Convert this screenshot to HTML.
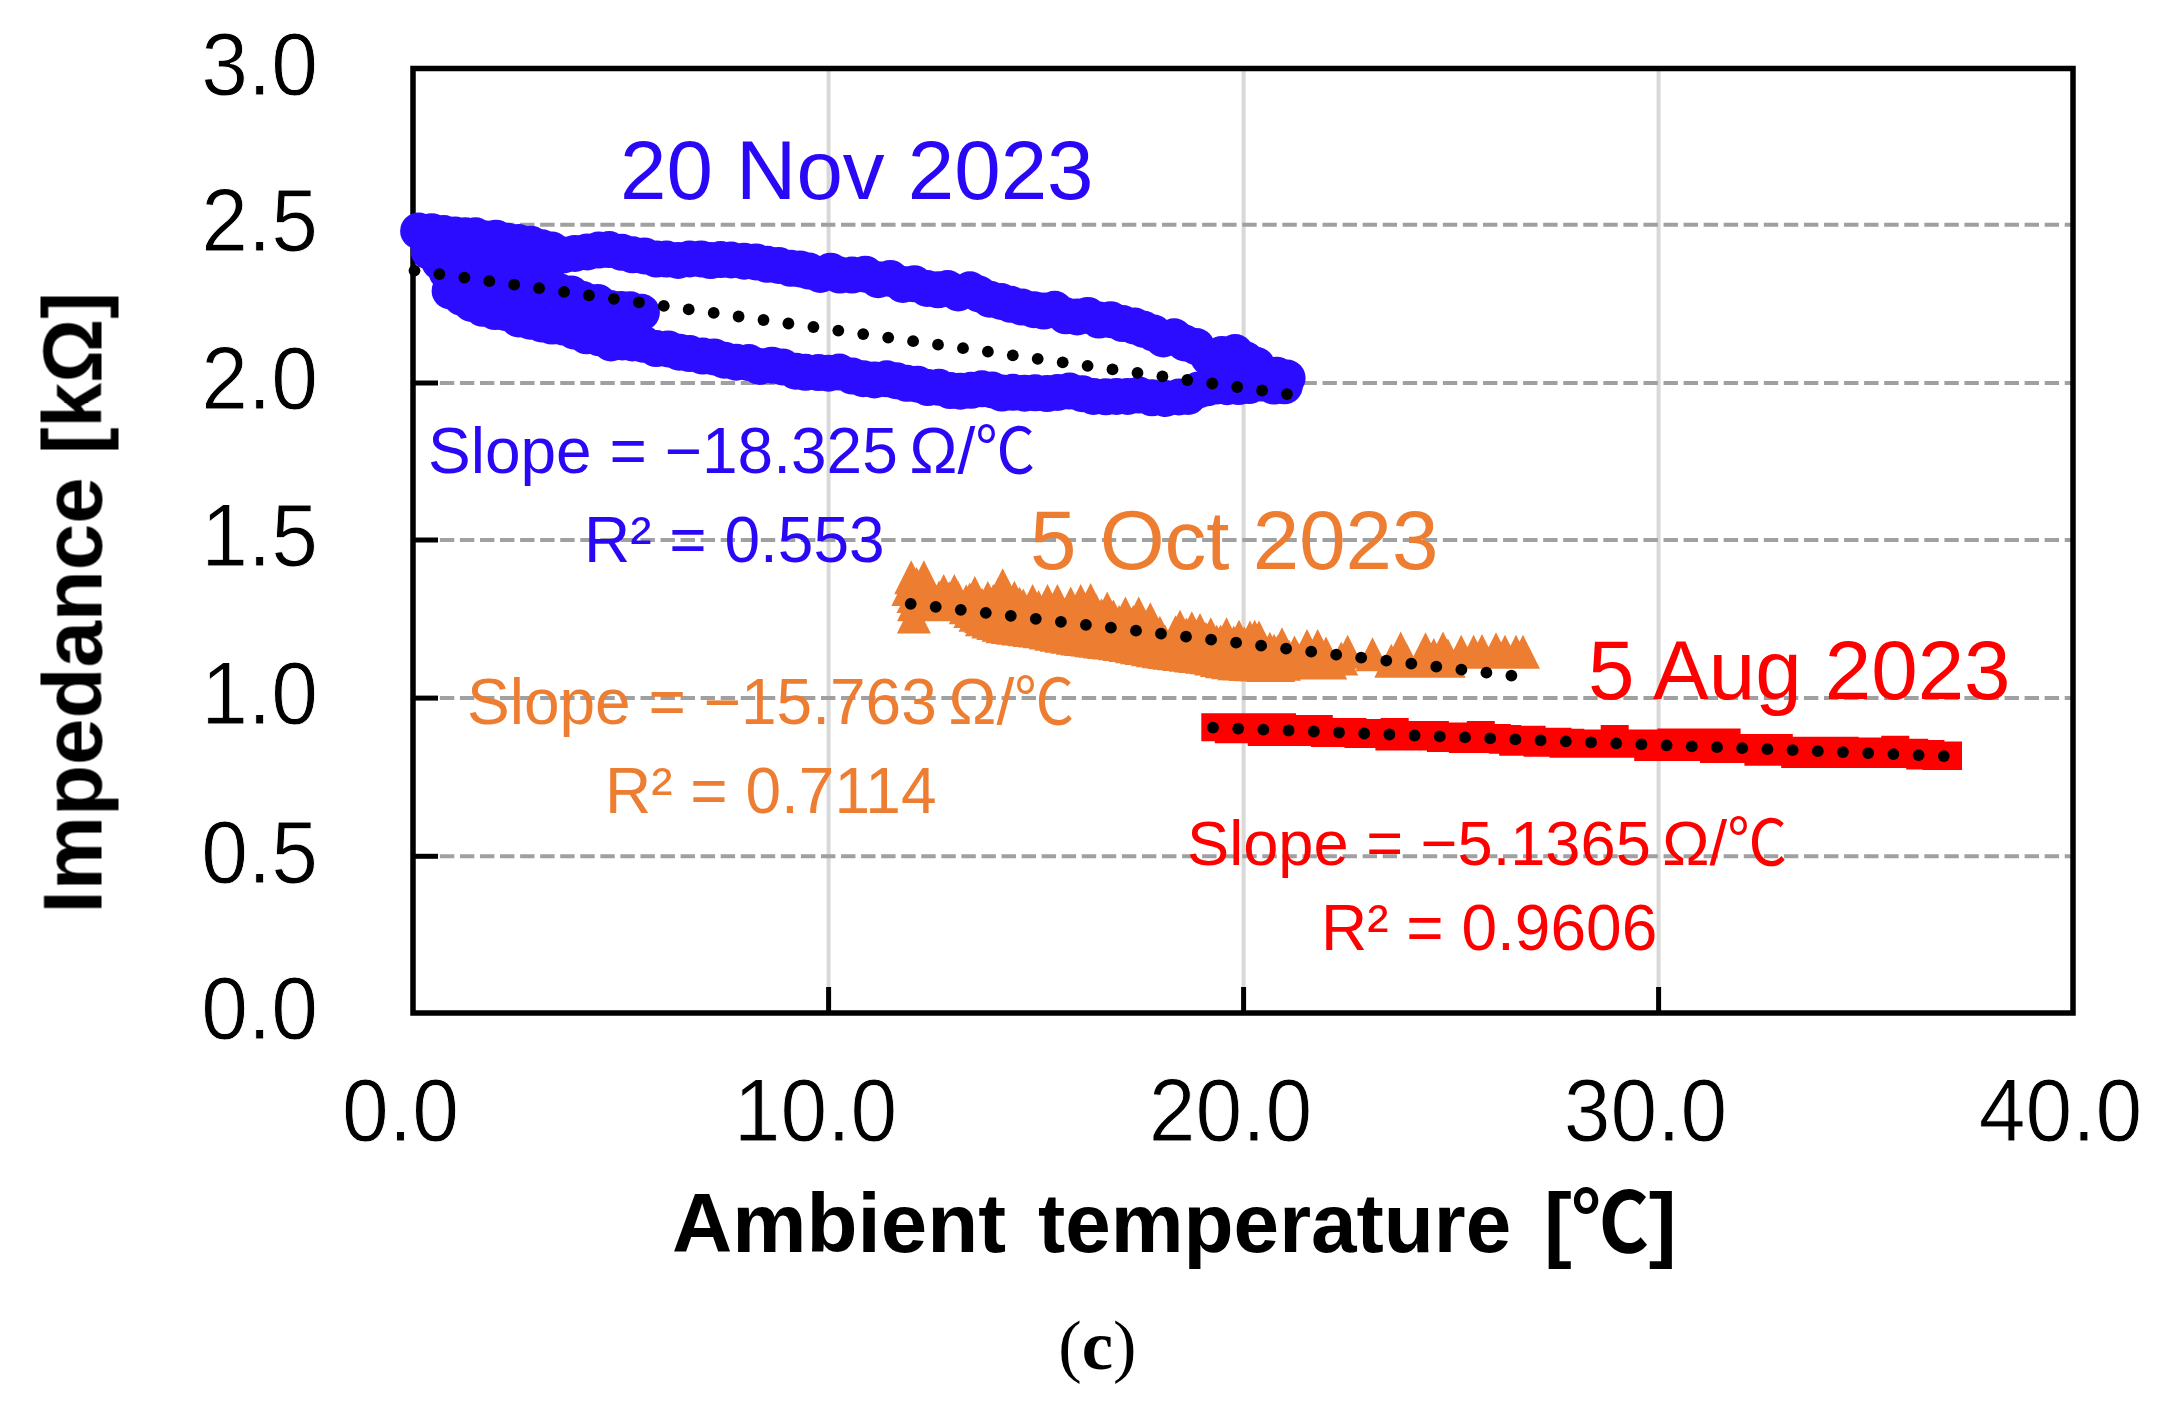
<!DOCTYPE html><html><head><meta charset="utf-8"><title>Impedance vs ambient temperature</title>
<style>html,body{margin:0;padding:0;background:#fff}svg{display:block}.ch{filter:blur(0.6px)}text{font-family:"Liberation Sans",sans-serif}.b{font-weight:bold}.t{font-size:84px;fill:#000}.tk{fill:#000;stroke:#fff;stroke-width:0.9px}.cj{font-family:"Noto Sans CJK JP","DejaVu Sans",sans-serif}</style></head><body>
<svg width="2171" height="1413" viewBox="0 0 2171 1413">
<rect width="2171" height="1413" fill="#fff"/>
<g class="ch">
<line x1="828.6" y1="68.5" x2="828.6" y2="1013" stroke="#d8d8d8" stroke-width="4"/>
<line x1="1243.6" y1="68.5" x2="1243.6" y2="1013" stroke="#d8d8d8" stroke-width="4"/>
<line x1="1658.6" y1="68.5" x2="1658.6" y2="1013" stroke="#d8d8d8" stroke-width="4"/>
<line x1="419.8" y1="856.3" x2="2073" y2="856.3" stroke="#a0a0a0" stroke-width="4" stroke-dasharray="14.4 5.66"/>
<line x1="419.8" y1="698.1" x2="2073" y2="698.1" stroke="#a0a0a0" stroke-width="4" stroke-dasharray="14.4 5.66"/>
<line x1="419.8" y1="540.0" x2="2073" y2="540.0" stroke="#a0a0a0" stroke-width="4" stroke-dasharray="14.4 5.66"/>
<line x1="419.8" y1="383.0" x2="2073" y2="383.0" stroke="#a0a0a0" stroke-width="4" stroke-dasharray="14.4 5.66"/>
<line x1="419.8" y1="224.7" x2="2073" y2="224.7" stroke="#a0a0a0" stroke-width="4" stroke-dasharray="14.4 5.66"/>
<line x1="413" y1="856.3" x2="438" y2="856.3" stroke="#000" stroke-width="5"/>
<line x1="413" y1="698.1" x2="438" y2="698.1" stroke="#000" stroke-width="5"/>
<line x1="413" y1="540.0" x2="438" y2="540.0" stroke="#000" stroke-width="5"/>
<line x1="413" y1="383.0" x2="438" y2="383.0" stroke="#000" stroke-width="5"/>
<line x1="413" y1="224.7" x2="438" y2="224.7" stroke="#000" stroke-width="5"/>
<line x1="828.6" y1="1013" x2="828.6" y2="987" stroke="#000" stroke-width="5"/>
<line x1="1243.6" y1="1013" x2="1243.6" y2="987" stroke="#000" stroke-width="5"/>
<line x1="1658.6" y1="1013" x2="1658.6" y2="987" stroke="#000" stroke-width="5"/>
<rect x="413" y="68.5" width="1660" height="944.5" fill="none" stroke="#000" stroke-width="5.5"/>
<g fill="#2b0cff"><circle cx="418.6" cy="231.0" r="18.5"/><circle cx="431.6" cy="231.7" r="18.5"/><circle cx="443.7" cy="233.6" r="18.5"/><circle cx="455.1" cy="235.0" r="18.5"/><circle cx="465.3" cy="235.8" r="18.5"/><circle cx="475.5" cy="235.8" r="18.5"/><circle cx="486.4" cy="239.0" r="18.5"/><circle cx="496.0" cy="238.2" r="18.5"/><circle cx="507.3" cy="241.3" r="18.5"/><circle cx="518.6" cy="242.5" r="18.5"/><circle cx="530.8" cy="244.2" r="18.5"/><circle cx="541.9" cy="247.8" r="18.5"/><circle cx="551.9" cy="250.1" r="18.5"/><circle cx="563.6" cy="254.9" r="18.5"/><circle cx="574.9" cy="253.4" r="18.5"/><circle cx="587.3" cy="251.9" r="18.5"/><circle cx="598.6" cy="250.1" r="18.5"/><circle cx="609.1" cy="249.6" r="18.5"/><circle cx="621.9" cy="252.3" r="18.5"/><circle cx="632.6" cy="254.8" r="18.5"/><circle cx="644.4" cy="255.9" r="18.5"/><circle cx="656.6" cy="259.1" r="18.5"/><circle cx="666.5" cy="259.1" r="18.5"/><circle cx="678.1" cy="260.4" r="18.5"/><circle cx="689.5" cy="259.0" r="18.5"/><circle cx="701.0" cy="258.9" r="18.5"/><circle cx="710.5" cy="260.6" r="18.5"/><circle cx="720.6" cy="259.6" r="18.5"/><circle cx="731.1" cy="260.0" r="18.5"/><circle cx="744.1" cy="261.2" r="18.5"/><circle cx="756.0" cy="261.9" r="18.5"/><circle cx="767.2" cy="264.3" r="18.5"/><circle cx="778.6" cy="265.4" r="18.5"/><circle cx="790.7" cy="268.3" r="18.5"/><circle cx="799.9" cy="268.9" r="18.5"/><circle cx="809.1" cy="271.1" r="18.5"/><circle cx="820.3" cy="274.4" r="18.5"/><circle cx="830.6" cy="271.2" r="18.5"/><circle cx="839.8" cy="275.1" r="18.5"/><circle cx="852.0" cy="275.1" r="18.5"/><circle cx="865.3" cy="274.2" r="18.5"/><circle cx="878.1" cy="279.7" r="18.5"/><circle cx="890.3" cy="278.4" r="18.5"/><circle cx="902.8" cy="284.4" r="18.5"/><circle cx="914.2" cy="283.7" r="18.5"/><circle cx="927.1" cy="288.5" r="18.5"/><circle cx="938.1" cy="289.8" r="18.5"/><circle cx="947.6" cy="288.5" r="18.5"/><circle cx="958.2" cy="293.0" r="18.5"/><circle cx="969.9" cy="289.8" r="18.5"/><circle cx="979.0" cy="294.0" r="18.5"/><circle cx="989.8" cy="299.2" r="18.5"/><circle cx="1001.2" cy="301.5" r="18.5"/><circle cx="1010.7" cy="304.3" r="18.5"/><circle cx="1022.1" cy="307.1" r="18.5"/><circle cx="1033.9" cy="309.7" r="18.5"/><circle cx="1043.7" cy="311.1" r="18.5"/><circle cx="1054.7" cy="309.3" r="18.5"/><circle cx="1065.8" cy="315.8" r="18.5"/><circle cx="1077.2" cy="316.9" r="18.5"/><circle cx="1087.8" cy="315.4" r="18.5"/><circle cx="1099.0" cy="320.1" r="18.5"/><circle cx="1110.6" cy="319.7" r="18.5"/><circle cx="1122.7" cy="323.6" r="18.5"/><circle cx="1134.7" cy="326.1" r="18.5"/><circle cx="1143.8" cy="329.3" r="18.5"/><circle cx="1153.7" cy="333.1" r="18.5"/><circle cx="1163.3" cy="338.9" r="18.5"/><circle cx="1174.2" cy="336.8" r="18.5"/><circle cx="1184.8" cy="343.0" r="18.5"/><circle cx="1196.4" cy="346.6" r="18.5"/><circle cx="1208.7" cy="357.2" r="18.5"/><circle cx="1221.9" cy="354.4" r="18.5"/><circle cx="1235.2" cy="352.5" r="18.5"/><circle cx="1245.7" cy="359.8" r="18.5"/><circle cx="1256.7" cy="365.5" r="18.5"/><circle cx="1265.0" cy="376.9" r="18.5"/><circle cx="1276.6" cy="375.2" r="18.5"/><circle cx="1287.1" cy="378.0" r="18.5"/><circle cx="450.1" cy="290.9" r="18.5"/><circle cx="461.7" cy="297.3" r="18.5"/><circle cx="471.5" cy="303.5" r="18.5"/><circle cx="482.8" cy="308.3" r="18.5"/><circle cx="495.1" cy="311.6" r="18.5"/><circle cx="506.2" cy="312.6" r="18.5"/><circle cx="518.6" cy="318.9" r="18.5"/><circle cx="530.2" cy="321.2" r="18.5"/><circle cx="541.6" cy="324.0" r="18.5"/><circle cx="552.0" cy="326.1" r="18.5"/><circle cx="563.7" cy="327.1" r="18.5"/><circle cx="574.6" cy="331.1" r="18.5"/><circle cx="586.5" cy="335.8" r="18.5"/><circle cx="599.4" cy="337.8" r="18.5"/><circle cx="610.9" cy="343.0" r="18.5"/><circle cx="622.4" cy="342.0" r="18.5"/><circle cx="632.4" cy="342.9" r="18.5"/><circle cx="643.9" cy="344.3" r="18.5"/><circle cx="656.2" cy="348.6" r="18.5"/><circle cx="668.2" cy="348.9" r="18.5"/><circle cx="679.3" cy="352.2" r="18.5"/><circle cx="689.7" cy="353.6" r="18.5"/><circle cx="702.8" cy="356.1" r="18.5"/><circle cx="714.0" cy="356.9" r="18.5"/><circle cx="724.4" cy="360.2" r="18.5"/><circle cx="736.2" cy="362.2" r="18.5"/><circle cx="748.9" cy="362.6" r="18.5"/><circle cx="759.6" cy="366.5" r="18.5"/><circle cx="771.9" cy="365.2" r="18.5"/><circle cx="782.5" cy="366.9" r="18.5"/><circle cx="795.8" cy="371.2" r="18.5"/><circle cx="805.5" cy="372.3" r="18.5"/><circle cx="818.5" cy="372.6" r="18.5"/><circle cx="828.5" cy="373.2" r="18.5"/><circle cx="839.3" cy="372.1" r="18.5"/><circle cx="852.4" cy="376.1" r="18.5"/><circle cx="863.1" cy="378.7" r="18.5"/><circle cx="874.4" cy="380.0" r="18.5"/><circle cx="886.7" cy="378.8" r="18.5"/><circle cx="896.2" cy="380.7" r="18.5"/><circle cx="906.8" cy="383.3" r="18.5"/><circle cx="917.5" cy="384.2" r="18.5"/><circle cx="927.9" cy="387.6" r="18.5"/><circle cx="939.0" cy="387.3" r="18.5"/><circle cx="950.2" cy="390.6" r="18.5"/><circle cx="960.4" cy="391.2" r="18.5"/><circle cx="971.1" cy="390.3" r="18.5"/><circle cx="981.8" cy="388.8" r="18.5"/><circle cx="992.2" cy="390.0" r="18.5"/><circle cx="1001.9" cy="393.1" r="18.5"/><circle cx="1012.8" cy="392.3" r="18.5"/><circle cx="1024.5" cy="393.2" r="18.5"/><circle cx="1035.2" cy="392.8" r="18.5"/><circle cx="1047.1" cy="393.6" r="18.5"/><circle cx="1057.7" cy="392.5" r="18.5"/><circle cx="1069.5" cy="391.1" r="18.5"/><circle cx="1082.2" cy="393.7" r="18.5"/><circle cx="1093.5" cy="396.4" r="18.5"/><circle cx="1105.8" cy="396.8" r="18.5"/><circle cx="1116.6" cy="396.4" r="18.5"/><circle cx="1127.7" cy="396.4" r="18.5"/><circle cx="1138.9" cy="395.1" r="18.5"/><circle cx="1152.0" cy="397.8" r="18.5"/><circle cx="1165.4" cy="398.5" r="18.5"/><circle cx="1178.9" cy="397.0" r="18.5"/><circle cx="1188.1" cy="396.4" r="18.5"/><circle cx="1198.7" cy="389.9" r="18.5"/><circle cx="1207.2" cy="387.8" r="18.5"/><circle cx="1217.1" cy="386.0" r="18.5"/><circle cx="1227.1" cy="386.7" r="18.5"/><circle cx="1238.6" cy="386.6" r="18.5"/><circle cx="1249.1" cy="385.6" r="18.5"/><circle cx="1261.8" cy="383.1" r="18.5"/><circle cx="1274.0" cy="386.1" r="18.5"/><circle cx="1284.4" cy="385.8" r="18.5"/><circle cx="439.8" cy="262.0" r="18.5"/><circle cx="447.0" cy="271.8" r="18.5"/><circle cx="451.3" cy="279.8" r="18.5"/><circle cx="464.0" cy="280.6" r="18.5"/><circle cx="475.4" cy="281.6" r="18.5"/><circle cx="488.4" cy="281.8" r="18.5"/><circle cx="500.1" cy="283.9" r="18.5"/><circle cx="509.0" cy="284.6" r="18.5"/><circle cx="520.2" cy="286.0" r="18.5"/><circle cx="529.1" cy="288.2" r="18.5"/><circle cx="540.6" cy="289.1" r="18.5"/><circle cx="549.2" cy="288.9" r="18.5"/><circle cx="559.1" cy="291.7" r="18.5"/><circle cx="571.0" cy="293.9" r="18.5"/><circle cx="582.8" cy="299.5" r="18.5"/><circle cx="597.6" cy="302.4" r="18.5"/><circle cx="610.3" cy="308.5" r="18.5"/><circle cx="621.1" cy="309.6" r="18.5"/><circle cx="630.2" cy="309.8" r="18.5"/><circle cx="641.4" cy="312.3" r="18.5"/><circle cx="429.1" cy="251.1" r="18.5"/><circle cx="440.3" cy="253.7" r="18.5"/><circle cx="449.2" cy="256.9" r="18.5"/><circle cx="459.1" cy="259.9" r="18.5"/><circle cx="469.9" cy="261.6" r="18.5"/><circle cx="480.1" cy="264.2" r="18.5"/><circle cx="489.5" cy="263.5" r="18.5"/><circle cx="500.1" cy="265.0" r="18.5"/><circle cx="509.2" cy="266.0" r="18.5"/><circle cx="519.1" cy="267.3" r="18.5"/><circle cx="532.1" cy="269.5" r="18.5"/><circle cx="545.5" cy="271.5" r="18.5"/></g>
<path fill="#ed7d31" d="M894.2 594.2L911.2 560.2L928.2 594.2ZM906.9 594.2L923.9 560.2L940.9 594.2ZM926.7 608.0L943.7 574.0L960.7 608.0ZM937.3 608.0L954.3 574.0L971.3 608.0ZM957.8 610.0L974.8 576.0L991.8 610.0ZM970.8 615.0L987.8 581.0L1004.8 615.0ZM985.7 602.2L1002.7 568.2L1019.7 602.2ZM1015.6 618.0L1032.6 584.0L1049.6 618.0ZM1030.5 618.0L1047.5 584.0L1064.5 618.0ZM1040.4 618.0L1057.4 584.0L1074.4 618.0ZM1053.7 620.4L1070.7 586.4L1087.7 620.4ZM1063.7 618.0L1080.7 584.0L1097.7 618.0ZM1073.6 617.0L1090.6 583.0L1107.6 617.0ZM1090.2 625.4L1107.2 591.4L1124.2 625.4ZM1108.4 630.4L1125.4 596.4L1142.4 630.4ZM1121.7 630.4L1138.7 596.4L1155.7 630.4ZM1133.3 636.2L1150.3 602.2L1167.3 636.2ZM1163.0 643.7L1180.0 609.7L1197.0 643.7ZM1174.8 645.3L1191.8 611.3L1208.8 645.3ZM1183.0 647.0L1200.0 613.0L1217.0 647.0ZM1193.8 651.3L1210.8 617.3L1227.8 651.3ZM1209.5 651.3L1226.5 617.3L1243.5 651.3ZM1222.0 653.8L1239.0 619.8L1256.0 653.8ZM1233.0 654.5L1250.0 620.5L1267.0 654.5ZM1237.7 653.8L1254.7 619.8L1271.7 653.8ZM1242.0 654.5L1259.0 620.5L1276.0 654.5ZM1265.0 661.3L1282.0 627.3L1299.0 661.3ZM1277.5 669.5L1294.5 635.5L1311.5 669.5ZM1290.0 663.0L1307.0 629.0L1324.0 663.0ZM1300.7 663.0L1317.7 629.0L1334.7 663.0ZM1309.0 670.4L1326.0 636.4L1343.0 670.4ZM1330.6 668.7L1347.6 634.7L1364.6 668.7ZM1355.5 671.2L1372.5 637.2L1389.5 671.2ZM1383.7 665.4L1400.7 631.4L1417.7 665.4ZM1408.5 666.2L1425.5 632.2L1442.5 666.2ZM1416.8 672.0L1433.8 638.0L1450.8 672.0ZM1426.0 665.4L1443.0 631.4L1460.0 665.4ZM1444.2 668.7L1461.2 634.7L1478.2 668.7ZM1456.6 668.7L1473.6 634.7L1490.6 668.7ZM1465.0 667.9L1482.0 633.9L1499.0 667.9ZM1479.0 666.2L1496.0 632.2L1513.0 666.2ZM1488.0 668.7L1505.0 634.7L1522.0 668.7ZM1499.0 668.7L1516.0 634.7L1533.0 668.7ZM1506.0 668.7L1523.0 634.7L1540.0 668.7ZM891.3 606.0L908.3 572.0L925.3 606.0ZM896.9 633.5L913.9 599.5L930.9 633.5ZM896.0 602.0L913.0 568.0L930.0 602.0ZM896.5 613.0L913.5 579.0L930.5 613.0ZM897.0 621.3L914.0 587.3L931.0 621.3ZM899.6 601.1L916.6 567.1L933.6 601.1ZM901.7 612.1L918.7 578.1L935.7 612.1ZM901.0 621.3L918.0 587.3L935.0 621.3ZM906.3 600.9L923.3 566.9L940.3 600.9ZM907.7 611.9L924.7 577.9L941.7 611.9ZM906.4 621.3L923.4 587.3L940.4 621.3ZM910.5 605.7L927.5 571.7L944.5 605.7ZM910.7 616.7L927.7 582.7L944.7 616.7ZM910.7 621.3L927.7 587.3L944.7 621.3ZM916.8 614.0L933.8 580.0L950.8 614.0ZM916.8 621.3L933.8 587.3L950.8 621.3ZM922.0 614.5L939.0 580.5L956.0 614.5ZM922.5 621.3L939.5 587.3L956.5 621.3ZM929.0 616.5L946.0 582.5L963.0 616.5ZM928.6 621.3L945.6 587.3L962.6 621.3ZM932.3 615.2L949.3 581.2L966.3 615.2ZM933.6 621.3L950.6 587.3L967.6 621.3ZM938.6 614.3L955.6 580.3L972.6 614.3ZM937.9 621.3L954.9 587.3L971.9 621.3ZM941.3 615.1L958.3 581.1L975.3 615.1ZM942.6 621.3L959.6 587.3L976.6 621.3ZM949.2 618.2L966.2 584.2L983.2 618.2ZM948.7 624.3L965.7 590.3L982.7 624.3ZM952.7 616.4L969.7 582.4L986.7 616.4ZM953.4 627.9L970.4 593.9L987.4 627.9ZM958.3 616.8L975.3 582.8L992.3 616.8ZM957.8 627.8L974.8 593.8L991.8 627.8ZM958.5 631.8L975.5 597.8L992.5 631.8ZM965.1 622.1L982.1 588.1L999.1 622.1ZM964.1 633.1L981.1 599.1L998.1 633.1ZM964.9 636.3L981.9 602.3L998.9 636.3ZM970.9 621.6L987.9 587.6L1004.9 621.6ZM969.8 632.6L986.8 598.6L1003.8 632.6ZM971.3 638.4L988.3 604.4L1005.3 638.4ZM976.3 618.0L993.3 584.0L1010.3 618.0ZM975.4 629.0L992.4 595.0L1009.4 629.0ZM976.3 640.1L993.3 606.1L1010.3 640.1ZM980.8 611.8L997.8 577.8L1014.8 611.8ZM980.3 622.8L997.3 588.8L1014.3 622.8ZM981.2 633.8L998.2 599.8L1015.2 633.8ZM981.5 641.8L998.5 607.8L1015.5 641.8ZM985.1 608.3L1002.1 574.3L1019.1 608.3ZM984.8 619.3L1001.8 585.3L1018.8 619.3ZM985.9 630.3L1002.9 596.3L1019.9 630.3ZM985.6 643.2L1002.6 609.2L1019.6 643.2ZM991.4 613.6L1008.4 579.6L1025.4 613.6ZM991.6 624.6L1008.6 590.6L1025.6 624.6ZM992.1 635.6L1009.1 601.6L1026.1 635.6ZM991.0 644.1L1008.0 610.1L1025.0 644.1ZM997.4 614.8L1014.4 580.8L1031.4 614.8ZM994.9 625.8L1011.9 591.8L1028.9 625.8ZM996.6 636.8L1013.6 602.8L1030.6 636.8ZM995.9 644.7L1012.9 610.7L1029.9 644.7ZM1002.6 620.8L1019.6 586.8L1036.6 620.8ZM1002.7 631.8L1019.7 597.8L1036.7 631.8ZM1001.9 642.8L1018.9 608.8L1035.9 642.8ZM1001.6 645.5L1018.6 611.5L1035.6 645.5ZM1006.3 622.5L1023.3 588.5L1040.3 622.5ZM1007.5 633.5L1024.5 599.5L1041.5 633.5ZM1007.4 646.2L1024.4 612.2L1041.4 646.2ZM1013.6 625.4L1030.6 591.4L1047.6 625.4ZM1013.6 636.4L1030.6 602.4L1047.6 636.4ZM1012.6 646.9L1029.6 612.9L1046.6 646.9ZM1018.7 627.1L1035.7 593.1L1052.7 627.1ZM1018.7 638.1L1035.7 604.1L1052.7 638.1ZM1018.1 647.6L1035.1 613.6L1052.1 647.6ZM1021.6 624.1L1038.6 590.1L1055.6 624.1ZM1022.3 635.1L1039.3 601.1L1056.3 635.1ZM1021.5 646.1L1038.5 612.1L1055.5 646.1ZM1022.7 648.3L1039.7 614.3L1056.7 648.3ZM1029.2 626.0L1046.2 592.0L1063.2 626.0ZM1029.1 637.0L1046.1 603.0L1063.1 637.0ZM1028.8 649.6L1045.8 615.6L1062.8 649.6ZM1033.0 625.7L1050.0 591.7L1067.0 625.7ZM1035.4 636.7L1052.4 602.7L1069.4 636.7ZM1035.2 647.7L1052.2 613.7L1069.2 647.7ZM1034.5 650.7L1051.5 616.7L1068.5 650.7ZM1040.2 625.9L1057.2 591.9L1074.2 625.9ZM1038.4 636.9L1055.4 602.9L1072.4 636.9ZM1040.4 647.9L1057.4 613.9L1074.4 647.9ZM1039.7 651.7L1056.7 617.7L1073.7 651.7ZM1043.7 625.0L1060.7 591.0L1077.7 625.0ZM1045.0 636.0L1062.0 602.0L1079.0 636.0ZM1043.5 647.0L1060.5 613.0L1077.5 647.0ZM1044.4 652.7L1061.4 618.7L1078.4 652.7ZM1050.2 629.2L1067.2 595.2L1084.2 629.2ZM1049.9 640.2L1066.9 606.2L1083.9 640.2ZM1050.1 651.2L1067.1 617.2L1084.1 651.2ZM1050.2 653.8L1067.2 619.8L1084.2 653.8ZM1056.3 628.6L1073.3 594.6L1090.3 628.6ZM1056.3 639.6L1073.3 605.6L1090.3 639.6ZM1054.7 650.6L1071.7 616.6L1088.7 650.6ZM1055.9 654.8L1072.9 620.8L1089.9 654.8ZM1061.0 625.7L1078.0 591.7L1095.0 625.7ZM1059.7 636.7L1076.7 602.7L1093.7 636.7ZM1060.5 647.7L1077.5 613.7L1094.5 647.7ZM1060.3 655.4L1077.3 621.4L1094.3 655.4ZM1063.6 624.1L1080.6 590.1L1097.6 624.1ZM1064.8 635.1L1081.8 601.1L1098.8 635.1ZM1064.9 646.1L1081.9 612.1L1098.9 646.1ZM1064.3 655.9L1081.3 621.9L1098.3 655.9ZM1070.1 624.4L1087.1 590.4L1104.1 624.4ZM1069.9 635.4L1086.9 601.4L1103.9 635.4ZM1069.9 646.4L1086.9 612.4L1103.9 646.4ZM1070.0 656.6L1087.0 622.6L1104.0 656.6ZM1073.4 626.5L1090.4 592.5L1107.4 626.5ZM1075.7 637.5L1092.7 603.5L1109.7 637.5ZM1075.6 648.5L1092.6 614.5L1109.6 648.5ZM1074.3 657.2L1091.3 623.2L1108.3 657.2ZM1079.3 627.8L1096.3 593.8L1113.3 627.8ZM1079.8 638.8L1096.8 604.8L1113.8 638.8ZM1078.2 649.8L1095.2 615.8L1112.2 649.8ZM1078.3 657.7L1095.3 623.7L1112.3 657.7ZM1084.4 632.2L1101.4 598.2L1118.4 632.2ZM1082.2 643.2L1099.2 609.2L1116.2 643.2ZM1083.3 654.2L1100.3 620.2L1117.3 654.2ZM1083.0 658.4L1100.0 624.4L1117.0 658.4ZM1088.7 631.8L1105.7 597.8L1122.7 631.8ZM1086.3 642.8L1103.3 608.8L1120.3 642.8ZM1088.3 653.8L1105.3 619.8L1122.3 653.8ZM1087.4 658.9L1104.4 624.9L1121.4 658.9ZM1093.3 635.2L1110.3 601.2L1127.3 635.2ZM1091.8 646.2L1108.8 612.2L1125.8 646.2ZM1093.8 657.2L1110.8 623.2L1127.8 657.2ZM1092.6 659.6L1109.6 625.6L1126.6 659.6ZM1096.4 633.6L1113.4 599.6L1130.4 633.6ZM1097.8 644.6L1114.8 610.6L1131.8 644.6ZM1097.7 655.6L1114.7 621.6L1131.7 655.6ZM1097.9 660.3L1114.9 626.3L1131.9 660.3ZM1102.1 639.1L1119.1 605.1L1136.1 639.1ZM1102.1 650.1L1119.1 616.1L1136.1 650.1ZM1102.6 660.9L1119.6 626.9L1136.6 660.9ZM1109.5 636.4L1126.5 602.4L1143.5 636.4ZM1109.7 647.4L1126.7 613.4L1143.7 647.4ZM1107.6 658.4L1124.6 624.4L1141.6 658.4ZM1108.7 662.1L1125.7 628.1L1142.7 662.1ZM1116.2 638.9L1133.2 604.9L1150.2 638.9ZM1114.4 649.9L1131.4 615.9L1148.4 649.9ZM1114.6 660.9L1131.6 626.9L1148.6 660.9ZM1115.0 663.3L1132.0 629.3L1149.0 663.3ZM1120.3 639.9L1137.3 605.9L1154.3 639.9ZM1119.6 650.9L1136.6 616.9L1153.6 650.9ZM1119.8 661.9L1136.8 627.9L1153.8 661.9ZM1120.0 664.2L1137.0 630.2L1154.0 664.2ZM1123.5 638.1L1140.5 604.1L1157.5 638.1ZM1125.7 649.1L1142.7 615.1L1159.7 649.1ZM1124.1 660.1L1141.1 626.1L1158.1 660.1ZM1124.7 665.1L1141.7 631.1L1158.7 665.1ZM1130.3 641.9L1147.3 607.9L1164.3 641.9ZM1131.1 652.9L1148.1 618.9L1165.1 652.9ZM1130.1 663.9L1147.1 629.9L1164.1 663.9ZM1131.0 666.3L1148.0 632.3L1165.0 666.3ZM1137.1 646.2L1154.1 612.2L1171.1 646.2ZM1136.9 657.2L1153.9 623.2L1170.9 657.2ZM1136.0 667.2L1153.0 633.2L1170.0 667.2ZM1142.9 649.8L1159.9 615.8L1176.9 649.8ZM1141.7 660.8L1158.7 626.8L1175.7 660.8ZM1141.6 668.2L1158.6 634.2L1175.6 668.2ZM1148.0 658.4L1165.0 624.4L1182.0 658.4ZM1147.4 669.0L1164.4 635.0L1181.4 669.0ZM1152.9 661.2L1169.9 627.2L1186.9 661.2ZM1152.5 669.7L1169.5 635.7L1186.5 669.7ZM1158.5 649.3L1175.5 615.3L1192.5 649.3ZM1156.1 660.3L1173.1 626.3L1190.1 660.3ZM1157.2 670.3L1174.2 636.3L1191.2 670.3ZM1161.8 650.7L1178.8 616.7L1195.8 650.7ZM1163.1 661.7L1180.1 627.7L1197.1 661.7ZM1162.4 670.9L1179.4 636.9L1196.4 670.9ZM1169.3 651.4L1186.3 617.4L1203.3 651.4ZM1168.2 662.4L1185.2 628.4L1202.2 662.4ZM1168.8 671.7L1185.8 637.7L1202.8 671.7ZM1173.2 652.6L1190.2 618.6L1207.2 652.6ZM1173.2 663.6L1190.2 629.6L1207.2 663.6ZM1174.2 672.4L1191.2 638.4L1208.2 672.4ZM1178.7 655.3L1195.7 621.3L1212.7 655.3ZM1177.9 666.3L1194.9 632.3L1211.9 666.3ZM1178.7 673.0L1195.7 639.0L1212.7 673.0ZM1184.8 657.3L1201.8 623.3L1218.8 657.3ZM1183.9 668.3L1200.9 634.3L1217.9 668.3ZM1185.0 673.7L1202.0 639.7L1219.0 673.7ZM1189.0 655.9L1206.0 621.9L1223.0 655.9ZM1188.2 666.9L1205.2 632.9L1222.2 666.9ZM1189.5 674.3L1206.5 640.3L1223.5 674.3ZM1194.3 658.2L1211.3 624.2L1228.3 658.2ZM1195.2 669.2L1212.2 635.2L1229.2 669.2ZM1194.1 675.4L1211.1 641.4L1228.1 675.4ZM1199.7 658.7L1216.7 624.7L1233.7 658.7ZM1200.0 669.7L1217.0 635.7L1234.0 669.7ZM1199.9 677.0L1216.9 643.0L1233.9 677.0ZM1203.6 658.5L1220.6 624.5L1237.6 658.5ZM1204.2 669.5L1221.2 635.5L1238.2 669.5ZM1204.9 678.2L1221.9 644.2L1238.9 678.2ZM1211.3 658.1L1228.3 624.1L1245.3 658.1ZM1211.7 669.1L1228.7 635.1L1245.7 669.1ZM1211.3 679.3L1228.3 645.3L1245.3 679.3ZM1216.8 659.6L1233.8 625.6L1250.8 659.6ZM1216.7 670.6L1233.7 636.6L1250.7 670.6ZM1217.5 680.3L1234.5 646.3L1251.5 680.3ZM1223.8 661.4L1240.8 627.4L1257.8 661.4ZM1223.5 672.4L1240.5 638.4L1257.5 672.4ZM1222.5 680.6L1239.5 646.6L1256.5 680.6ZM1227.2 660.3L1244.2 626.3L1261.2 660.3ZM1229.3 671.3L1246.3 637.3L1263.3 671.3ZM1228.6 680.9L1245.6 646.9L1262.6 680.9ZM1235.1 661.9L1252.1 627.9L1269.1 661.9ZM1233.4 672.9L1250.4 638.9L1267.4 672.9ZM1234.9 681.2L1251.9 647.2L1268.9 681.2ZM1240.8 663.4L1257.8 629.4L1274.8 663.4ZM1240.9 674.4L1257.9 640.4L1274.9 674.4ZM1239.9 681.5L1256.9 647.5L1273.9 681.5ZM1245.1 662.6L1262.1 628.6L1279.1 662.6ZM1245.3 673.6L1262.3 639.6L1279.3 673.6ZM1246.3 681.9L1263.3 647.9L1280.3 681.9ZM1252.9 665.7L1269.9 631.7L1286.9 665.7ZM1252.3 676.7L1269.3 642.7L1286.3 676.7ZM1251.6 682.0L1268.6 648.0L1285.6 682.0ZM1257.1 667.7L1274.1 633.7L1291.1 667.7ZM1257.4 678.7L1274.4 644.7L1291.4 678.7ZM1257.2 682.0L1274.2 648.0L1291.2 682.0ZM1260.5 668.9L1277.5 634.9L1294.5 668.9ZM1262.6 679.9L1279.6 645.9L1296.6 679.9ZM1261.3 682.0L1278.3 648.0L1295.3 682.0ZM1265.8 669.6L1282.8 635.6L1299.8 669.6ZM1266.9 680.8L1283.9 646.8L1300.9 680.8ZM1272.2 673.8L1289.2 639.8L1306.2 673.8ZM1271.6 679.5L1288.6 645.5L1305.6 679.5ZM1275.9 674.7L1292.9 640.7L1309.9 674.7ZM1275.8 679.5L1292.8 645.5L1309.8 679.5ZM1280.5 674.9L1297.5 640.9L1314.5 674.9ZM1281.3 679.5L1298.3 645.5L1315.3 679.5ZM1286.2 670.7L1303.2 636.7L1320.2 670.7ZM1286.8 679.5L1303.8 645.5L1320.8 679.5ZM1292.4 672.4L1309.4 638.4L1326.4 672.4ZM1292.0 679.5L1309.0 645.5L1326.0 679.5ZM1297.4 670.7L1314.4 636.7L1331.4 670.7ZM1298.2 679.5L1315.2 645.5L1332.2 679.5ZM1303.4 674.2L1320.4 640.2L1337.4 674.2ZM1302.8 679.5L1319.8 645.5L1336.8 679.5ZM1307.5 675.2L1324.5 641.2L1341.5 675.2ZM1307.5 679.5L1324.5 645.5L1341.5 679.5ZM1313.2 679.5L1330.2 645.5L1347.2 679.5ZM1324.2 675.5L1341.2 641.5L1358.2 675.5ZM1374.3 677.8L1391.3 643.8L1408.3 677.8ZM1380.7 674.6L1397.7 640.6L1414.7 674.6ZM1379.3 677.8L1396.3 643.8L1413.3 677.8ZM1382.8 672.8L1399.8 638.8L1416.8 672.8ZM1383.7 677.8L1400.7 643.8L1417.7 677.8ZM1390.1 677.8L1407.1 643.8L1424.1 677.8ZM1406.9 674.7L1423.9 640.7L1440.9 674.7ZM1405.5 677.8L1422.5 643.8L1439.5 677.8ZM1410.8 675.6L1427.8 641.6L1444.8 675.6ZM1411.8 677.8L1428.8 643.8L1445.8 677.8ZM1422.2 677.8L1439.2 643.8L1456.2 677.8ZM1426.6 672.9L1443.6 638.9L1460.6 672.9ZM1427.2 677.8L1444.2 643.8L1461.2 677.8ZM1430.9 672.4L1447.9 638.4L1464.9 672.4ZM1431.6 677.8L1448.6 643.8L1465.6 677.8Z"/>
<path fill="#ff0000" d="M1201.3 713.2h28v28h-28ZM1210.8 713.2h28v28h-28ZM1220.4 713.2h28v28h-28ZM1229.9 713.2h28v28h-28ZM1239.4 713.2h28v28h-28ZM1248.9 713.2h28v28h-28ZM1258.5 713.2h28v28h-28ZM1268.0 713.2h28v28h-28ZM1274.0 715.1h28v28h-28ZM1284.3 715.1h28v28h-28ZM1294.5 715.1h28v28h-28ZM1304.8 715.1h28v28h-28ZM1310.8 719.0h28v28h-28ZM1320.0 719.0h28v28h-28ZM1329.1 719.0h28v28h-28ZM1338.3 719.0h28v28h-28ZM1347.5 719.0h28v28h-28ZM1356.7 719.0h28v28h-28ZM1365.8 719.0h28v28h-28ZM1375.0 719.0h28v28h-28ZM1380.7 718.0h28v28h-28ZM1386.3 721.0h28v28h-28ZM1395.0 721.0h28v28h-28ZM1403.6 721.0h28v28h-28ZM1412.2 721.0h28v28h-28ZM1420.9 721.0h28v28h-28ZM1426.9 723.9h28v28h-28ZM1435.8 723.9h28v28h-28ZM1444.6 723.9h28v28h-28ZM1453.5 723.9h28v28h-28ZM1462.3 723.9h28v28h-28ZM1466.8 721.0h28v28h-28ZM1471.4 723.9h28v28h-28ZM1482.8 723.9h28v28h-28ZM1488.8 725.8h28v28h-28ZM1498.4 725.8h28v28h-28ZM1508.0 725.8h28v28h-28ZM1517.6 725.8h28v28h-28ZM1523.6 728.7h28v28h-28ZM1531.8 728.7h28v28h-28ZM1539.9 728.7h28v28h-28ZM1548.1 728.7h28v28h-28ZM1556.3 728.7h28v28h-28ZM1562.3 729.5h28v28h-28ZM1571.0 729.5h28v28h-28ZM1579.7 729.5h28v28h-28ZM1588.3 729.5h28v28h-28ZM1597.0 729.5h28v28h-28ZM1600.7 725.1h28v28h-28ZM1604.4 729.4h28v28h-28ZM1613.8 729.4h28v28h-28ZM1623.2 729.4h28v28h-28ZM1632.6 729.4h28v28h-28ZM1642.0 729.4h28v28h-28ZM1651.4 729.4h28v28h-28ZM1657.4 728.6h28v28h-28ZM1666.6 728.6h28v28h-28ZM1675.8 728.6h28v28h-28ZM1685.0 728.6h28v28h-28ZM1694.2 728.6h28v28h-28ZM1703.4 728.6h28v28h-28ZM1712.6 728.6h28v28h-28ZM1718.6 733.9h28v28h-28ZM1727.8 733.9h28v28h-28ZM1737.1 733.9h28v28h-28ZM1746.3 733.9h28v28h-28ZM1755.6 733.9h28v28h-28ZM1764.8 733.9h28v28h-28ZM1770.8 736.8h28v28h-28ZM1779.3 736.8h28v28h-28ZM1787.9 736.8h28v28h-28ZM1796.4 736.8h28v28h-28ZM1805.0 736.8h28v28h-28ZM1813.5 736.8h28v28h-28ZM1822.1 736.8h28v28h-28ZM1830.6 736.8h28v28h-28ZM1836.6 737.5h28v28h-28ZM1846.4 737.5h28v28h-28ZM1856.2 737.5h28v28h-28ZM1866.0 737.5h28v28h-28ZM1875.8 737.5h28v28h-28ZM1881.3 735.8h28v28h-28ZM1886.9 738.7h28v28h-28ZM1900.2 738.7h28v28h-28ZM1906.2 741.6h28v28h-28ZM1915.5 741.6h28v28h-28ZM1924.7 741.6h28v28h-28ZM1934.0 741.6h28v28h-28ZM1201.3 713.3h28v28h-28ZM1208.8 713.3h28v28h-28ZM1214.8 715.2h28v28h-28ZM1223.8 715.2h28v28h-28ZM1232.7 715.2h28v28h-28ZM1241.7 715.2h28v28h-28ZM1247.7 718.1h28v28h-28ZM1256.8 718.1h28v28h-28ZM1265.8 718.1h28v28h-28ZM1274.9 718.1h28v28h-28ZM1284.0 718.1h28v28h-28ZM1293.1 718.1h28v28h-28ZM1302.1 718.1h28v28h-28ZM1311.2 718.1h28v28h-28ZM1320.3 718.1h28v28h-28ZM1329.3 718.1h28v28h-28ZM1338.4 718.1h28v28h-28ZM1344.4 720.0h28v28h-28ZM1352.7 720.0h28v28h-28ZM1361.1 720.0h28v28h-28ZM1369.4 720.0h28v28h-28ZM1375.4 722.4h28v28h-28ZM1383.8 722.4h28v28h-28ZM1392.3 722.4h28v28h-28ZM1400.7 722.4h28v28h-28ZM1409.2 722.4h28v28h-28ZM1417.6 722.4h28v28h-28ZM1426.0 722.4h28v28h-28ZM1434.5 722.4h28v28h-28ZM1442.9 722.4h28v28h-28ZM1448.9 724.9h28v28h-28ZM1457.8 724.9h28v28h-28ZM1466.6 724.9h28v28h-28ZM1475.5 724.9h28v28h-28ZM1484.3 724.9h28v28h-28ZM1493.2 724.9h28v28h-28ZM1499.2 727.8h28v28h-28ZM1508.1 727.8h28v28h-28ZM1516.9 727.8h28v28h-28ZM1525.8 727.8h28v28h-28ZM1534.6 727.8h28v28h-28ZM1543.5 727.8h28v28h-28ZM1549.5 729.8h28v28h-28ZM1558.2 729.8h28v28h-28ZM1567.0 729.8h28v28h-28ZM1575.7 729.8h28v28h-28ZM1584.5 729.8h28v28h-28ZM1593.2 729.8h28v28h-28ZM1602.0 729.8h28v28h-28ZM1610.7 729.8h28v28h-28ZM1619.5 729.8h28v28h-28ZM1628.2 729.8h28v28h-28ZM1634.2 732.9h28v28h-28ZM1642.7 732.9h28v28h-28ZM1651.3 732.9h28v28h-28ZM1659.8 732.9h28v28h-28ZM1668.4 732.9h28v28h-28ZM1676.9 732.9h28v28h-28ZM1685.5 732.9h28v28h-28ZM1694.0 732.9h28v28h-28ZM1700.0 734.9h28v28h-28ZM1709.6 734.9h28v28h-28ZM1719.2 734.9h28v28h-28ZM1728.8 734.9h28v28h-28ZM1738.4 734.9h28v28h-28ZM1744.4 737.8h28v28h-28ZM1754.7 737.8h28v28h-28ZM1764.9 737.8h28v28h-28ZM1775.2 737.8h28v28h-28ZM1781.2 740.1h28v28h-28ZM1790.2 740.1h28v28h-28ZM1799.2 740.1h28v28h-28ZM1808.2 740.1h28v28h-28ZM1817.3 740.1h28v28h-28ZM1826.3 740.1h28v28h-28ZM1835.3 740.1h28v28h-28ZM1844.3 740.1h28v28h-28ZM1853.3 740.1h28v28h-28ZM1862.3 740.1h28v28h-28ZM1871.3 740.1h28v28h-28ZM1880.3 740.1h28v28h-28ZM1889.4 740.1h28v28h-28ZM1898.4 740.1h28v28h-28ZM1907.4 740.1h28v28h-28ZM1916.4 740.1h28v28h-28ZM1922.4 742.0h28v28h-28ZM1934.0 742.0h28v28h-28Z"/>
<g fill="#000"><circle cx="414.5" cy="270.6" r="5.9"/><circle cx="439.4" cy="274.1" r="5.9"/><circle cx="464.4" cy="277.7" r="5.9"/><circle cx="489.3" cy="281.2" r="5.9"/><circle cx="514.2" cy="284.7" r="5.9"/><circle cx="539.1" cy="288.2" r="5.9"/><circle cx="564.1" cy="291.8" r="5.9"/><circle cx="589.0" cy="295.3" r="5.9"/><circle cx="613.9" cy="298.8" r="5.9"/><circle cx="638.9" cy="302.3" r="5.9"/><circle cx="663.8" cy="305.9" r="5.9"/><circle cx="688.7" cy="309.4" r="5.9"/><circle cx="713.7" cy="312.9" r="5.9"/><circle cx="738.6" cy="316.5" r="5.9"/><circle cx="763.5" cy="320.0" r="5.9"/><circle cx="788.4" cy="323.5" r="5.9"/><circle cx="813.4" cy="327.0" r="5.9"/><circle cx="838.3" cy="330.6" r="5.9"/><circle cx="863.2" cy="334.1" r="5.9"/><circle cx="888.2" cy="337.6" r="5.9"/><circle cx="913.1" cy="341.2" r="5.9"/><circle cx="938.0" cy="344.7" r="5.9"/><circle cx="963.0" cy="348.2" r="5.9"/><circle cx="987.9" cy="351.7" r="5.9"/><circle cx="1012.8" cy="355.3" r="5.9"/><circle cx="1037.7" cy="358.8" r="5.9"/><circle cx="1062.7" cy="362.3" r="5.9"/><circle cx="1087.6" cy="365.8" r="5.9"/><circle cx="1112.5" cy="369.4" r="5.9"/><circle cx="1137.5" cy="372.9" r="5.9"/><circle cx="1162.4" cy="376.4" r="5.9"/><circle cx="1187.3" cy="380.0" r="5.9"/><circle cx="1212.3" cy="383.5" r="5.9"/><circle cx="1237.2" cy="387.0" r="5.9"/><circle cx="1262.1" cy="390.5" r="5.9"/><circle cx="1287.0" cy="394.1" r="5.9"/><circle cx="910.7" cy="603.8" r="5.9"/><circle cx="935.7" cy="606.8" r="5.9"/><circle cx="960.8" cy="609.8" r="5.9"/><circle cx="985.8" cy="612.8" r="5.9"/><circle cx="1010.8" cy="615.8" r="5.9"/><circle cx="1035.8" cy="618.8" r="5.9"/><circle cx="1060.9" cy="621.8" r="5.9"/><circle cx="1085.9" cy="624.8" r="5.9"/><circle cx="1110.9" cy="627.7" r="5.9"/><circle cx="1136.0" cy="630.7" r="5.9"/><circle cx="1161.0" cy="633.7" r="5.9"/><circle cx="1186.0" cy="636.7" r="5.9"/><circle cx="1211.1" cy="639.7" r="5.9"/><circle cx="1236.1" cy="642.7" r="5.9"/><circle cx="1261.1" cy="645.7" r="5.9"/><circle cx="1286.1" cy="648.7" r="5.9"/><circle cx="1311.2" cy="651.7" r="5.9"/><circle cx="1336.2" cy="654.7" r="5.9"/><circle cx="1361.2" cy="657.7" r="5.9"/><circle cx="1386.3" cy="660.7" r="5.9"/><circle cx="1411.3" cy="663.7" r="5.9"/><circle cx="1436.3" cy="666.7" r="5.9"/><circle cx="1461.4" cy="669.7" r="5.9"/><circle cx="1486.4" cy="672.7" r="5.9"/><circle cx="1511.4" cy="675.6" r="5.9"/><circle cx="1213.0" cy="727.6" r="5.9"/><circle cx="1238.2" cy="728.6" r="5.9"/><circle cx="1263.4" cy="729.6" r="5.9"/><circle cx="1288.6" cy="730.5" r="5.9"/><circle cx="1313.8" cy="731.5" r="5.9"/><circle cx="1339.0" cy="732.5" r="5.9"/><circle cx="1364.2" cy="733.5" r="5.9"/><circle cx="1389.4" cy="734.5" r="5.9"/><circle cx="1414.6" cy="735.5" r="5.9"/><circle cx="1439.8" cy="736.4" r="5.9"/><circle cx="1465.0" cy="737.4" r="5.9"/><circle cx="1490.2" cy="738.4" r="5.9"/><circle cx="1515.4" cy="739.4" r="5.9"/><circle cx="1540.6" cy="740.4" r="5.9"/><circle cx="1565.8" cy="741.3" r="5.9"/><circle cx="1591.0" cy="742.3" r="5.9"/><circle cx="1616.2" cy="743.3" r="5.9"/><circle cx="1641.4" cy="744.3" r="5.9"/><circle cx="1666.6" cy="745.3" r="5.9"/><circle cx="1691.8" cy="746.3" r="5.9"/><circle cx="1717.0" cy="747.2" r="5.9"/><circle cx="1742.2" cy="748.2" r="5.9"/><circle cx="1767.4" cy="749.2" r="5.9"/><circle cx="1792.6" cy="750.2" r="5.9"/><circle cx="1817.8" cy="751.2" r="5.9"/><circle cx="1843.0" cy="752.1" r="5.9"/><circle cx="1868.2" cy="753.1" r="5.9"/><circle cx="1893.4" cy="754.1" r="5.9"/><circle cx="1918.6" cy="755.1" r="5.9"/><circle cx="1943.8" cy="756.1" r="5.9"/></g>
<text transform="translate(318,1039.3) scale(1,1.05)" font-size="84" text-anchor="end" class="tk">0.0</text>
<text transform="translate(318,882.6) scale(1,1.05)" font-size="84" text-anchor="end" class="tk">0.5</text>
<text transform="translate(318,724.4) scale(1,1.05)" font-size="84" text-anchor="end" class="tk">1.0</text>
<text transform="translate(318,566.3) scale(1,1.05)" font-size="84" text-anchor="end" class="tk">1.5</text>
<text transform="translate(318,409.3) scale(1,1.05)" font-size="84" text-anchor="end" class="tk">2.0</text>
<text transform="translate(318,251.0) scale(1,1.05)" font-size="84" text-anchor="end" class="tk">2.5</text>
<text transform="translate(318,94.8) scale(1,1.05)" font-size="84" text-anchor="end" class="tk">3.0</text>
<text transform="translate(400.5,1141) scale(1,1.05)" font-size="84" text-anchor="middle" class="tk">0.0</text>
<text transform="translate(815.5,1141) scale(1,1.05)" font-size="84" text-anchor="middle" class="tk">10.0</text>
<text transform="translate(1230.5,1141) scale(1,1.05)" font-size="84" text-anchor="middle" class="tk">20.0</text>
<text transform="translate(1645.5,1141) scale(1,1.05)" font-size="84" text-anchor="middle" class="tk">30.0</text>
<text transform="translate(2060.5,1141) scale(1,1.05)" font-size="84" text-anchor="middle" class="tk">40.0</text>
<text x="620" y="199" font-size="83.5" fill="#2808f5" text-anchor="start" class="" >20 Nov 2023</text>
<text x="428" y="473.4" font-size="64" fill="#2808f5" text-anchor="start" class="" >Slope = −18.325 <tspan dx="-6">Ω/</tspan><tspan class="cj" textLength="60" lengthAdjust="spacingAndGlyphs">℃</tspan></text>
<text x="584" y="561.8" font-size="64" fill="#2808f5" text-anchor="start" class="" >R² = 0.553</text>
<text x="1030" y="568.6" font-size="83.5" fill="#ed7d31" text-anchor="start" class="" >5 Oct 2023</text>
<text x="467" y="724.3" font-size="64" fill="#ed7d31" text-anchor="start" class="" >Slope = −15.763 <tspan dx="-6">Ω/</tspan><tspan class="cj" textLength="60" lengthAdjust="spacingAndGlyphs">℃</tspan></text>
<text x="605" y="813" font-size="64" fill="#ed7d31" text-anchor="start" class="" >R² = 0.7114</text>
<text x="1588" y="699" font-size="83.5" fill="#ff0000" text-anchor="start" class="" >5 Aug 2023</text>
<text x="1187" y="864.5" font-size="63.2" fill="#ff0000" text-anchor="start" class="" >Slope = −5.1365 <tspan dx="-6">Ω/</tspan><tspan class="cj" textLength="60" lengthAdjust="spacingAndGlyphs">℃</tspan></text>
<text x="1321" y="950.4" font-size="64" fill="#ff0000" text-anchor="start" class="" >R² = 0.9606</text>
<text y="1252" font-size="83.5" class="b" fill="#000"><tspan x="672">Ambient </tspan><tspan x="1038" textLength="496" lengthAdjust="spacingAndGlyphs">temperature </tspan><tspan x="1544">[</tspan><tspan class="cj" textLength="77" lengthAdjust="spacingAndGlyphs">℃</tspan><tspan>]</tspan></text>
<text transform="translate(101.5,913.5) rotate(-90)" font-size="83.5" class="b" fill="#000">Impedance <tspan textLength="162" lengthAdjust="spacingAndGlyphs">[kΩ]</tspan></text>
</g>
<text x="1097.3" y="1369" font-size="70.5" text-anchor="middle" style="font-family:'Liberation Serif',serif" fill="#000">(<tspan font-weight="bold">c</tspan>)</text>
</svg></body></html>
